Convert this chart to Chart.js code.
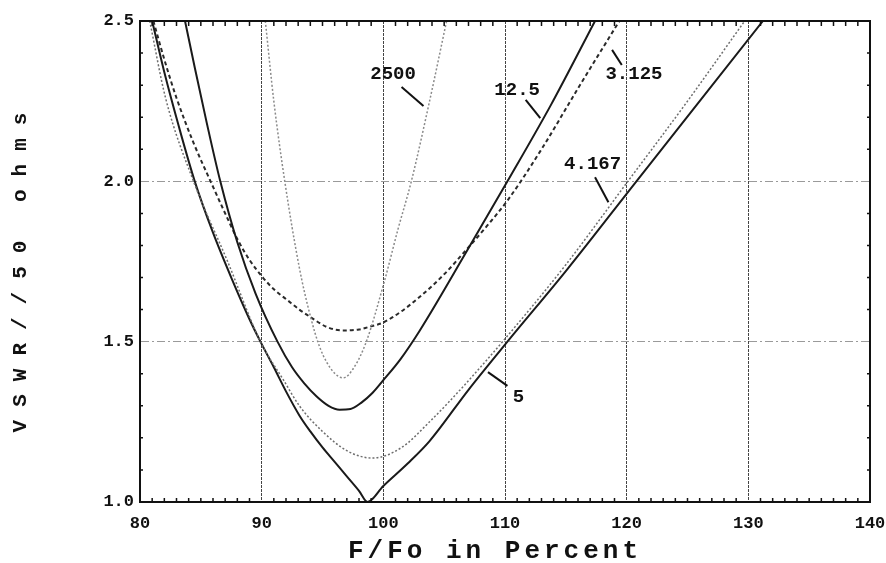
<!DOCTYPE html>
<html>
<head>
<meta charset="utf-8">
<script src="https://cdn.jsdelivr.net/npm/chart.js@4.4.1/dist/chart.umd.min.js"></script>
<style>
  body { margin: 0; background: #fff; }
</style>
</head>
<body>
<canvas id="chart" width="886" height="563"></canvas>
<script>
// F/Fo (%) and VSWR, one pair of arrays per curve
const x2500 = [90.3, 91.0, 91.9, 93.1, 94.0, 94.8, 95.8, 96.7, 97.6, 98.6, 100.1, 101.2, 102.3, 103.8, 105.2];
const y2500 = [2.5, 2.25, 2.0, 1.73, 1.58, 1.48, 1.41, 1.387, 1.42, 1.5, 1.69, 1.85, 2.0, 2.25, 2.5];

const x12_5 = [83.7, 84.5, 85.5, 86.6, 88, 89.5, 91.3, 92.5, 93.5, 94.5, 95.5, 96.4, 97.3, 98.2, 99.1, 100, 101.4, 103, 106.9, 110.2, 113.8, 117.4];
const y12_5 = [2.5, 2.355, 2.18, 2.0, 1.81, 1.65, 1.5, 1.42, 1.37, 1.33, 1.30, 1.288, 1.29, 1.31, 1.34, 1.38, 1.445, 1.535, 1.785, 2.0, 2.24, 2.5];

const x3_125 = [81.1, 82, 83, 84.4, 85.8, 87, 88, 89, 90.1, 91.1, 92.1, 93.1, 94, 95.4, 96.7, 98, 99, 100, 101.5, 103, 105, 106.9, 108.5, 110.2, 113, 116, 119.4];
const y3_125 = [2.5, 2.38, 2.26, 2.12, 2.0, 1.9, 1.82, 1.755, 1.70, 1.66, 1.63, 1.60, 1.577, 1.545, 1.535, 1.538, 1.548, 1.56, 1.595, 1.64, 1.71, 1.79, 1.86, 1.94, 2.10, 2.29, 2.5];

const x4_167 = [80.8, 82.1, 84.4, 87.2, 89.9, 91.8, 93.1, 95, 97, 99.1, 101.5, 103.8, 106.8, 109.8, 115, 120.1, 125, 129.7];
const y4_167 = [2.5, 2.26, 2.0, 1.75, 1.5, 1.38, 1.30, 1.22, 1.16, 1.137, 1.17, 1.25, 1.37, 1.5, 1.74, 2.0, 2.25, 2.5];

const x5 = [81.0, 82.0, 83.2, 84.5, 86, 87.5, 89, 89.9, 91, 92, 93.1, 94, 95, 96, 97, 98, 98.7, 100, 102, 103.8, 107, 110.2, 115, 120.8, 126, 131.2];
const y5 = [2.5, 2.34, 2.17, 2.0, 1.84, 1.70, 1.57, 1.5, 1.42, 1.345, 1.27, 1.22, 1.17, 1.125, 1.08, 1.035, 1.0, 1.05, 1.12, 1.19, 1.35, 1.5, 1.72, 2.0, 2.25, 2.5];

const xTicks = [80, 90, 100, 110, 120, 130, 140];
const yTicks = [1.0, 1.5, 2.0, 2.5];

const pts = (xs, ys) => xs.map((v, i) => ({ x: v, y: ys[i] }));

// curve labels with their leader lines, in data units
const notes = [
    { text: "2500", x: 100.8, y: 2.335, from: [101.5, 2.294], to: [103.3, 2.235] },
    { text: "12.5", x: 111.0, y: 2.285, from: [111.7, 2.254], to: [112.9, 2.197] },
    { text: "3.125", x: 120.6, y: 2.335, from: [119.6, 2.363], to: [118.8, 2.41] },
    { text: "4.167", x: 117.2, y: 2.054, from: [117.4, 2.013], to: [118.5, 1.935] },
    { text: "5", x: 111.1, y: 1.327, from: [110.2, 1.362], to: [108.6, 1.405] },
];

const monoBold = (size) => ({ family: "'Liberation Mono', 'DejaVu Sans Mono', monospace", size: size, weight: "bold" });

const decor = {
    id: "decor",
    afterDatasetsDraw(chart) {
        const { ctx, chartArea: a, scales: { x, y } } = chart;
        ctx.save();
        // curve labels
        ctx.fillStyle = "#111";
        ctx.strokeStyle = "#111";
        ctx.lineWidth = 2;
        ctx.font = "bold 19px 'Liberation Mono', monospace";
        ctx.textAlign = "center";
        ctx.textBaseline = "middle";
        notes.forEach((n) => {
            ctx.fillText(n.text, x.getPixelForValue(n.x), y.getPixelForValue(n.y));
            ctx.beginPath();
            ctx.moveTo(x.getPixelForValue(n.from[0]), y.getPixelForValue(n.from[1]));
            ctx.lineTo(x.getPixelForValue(n.to[0]), y.getPixelForValue(n.to[1]));
            ctx.stroke();
        });

        // frame
        ctx.lineWidth = 2;
        ctx.strokeRect(a.left, a.top, a.right - a.left, a.bottom - a.top);

        // minor ticks
        ctx.lineWidth = 1.5;
        ctx.beginPath();
        for (let v = 81; v < 140; v++) {
            if (v % 10 === 0) continue;
            const px = x.getPixelForValue(v);
            ctx.moveTo(px, a.bottom);
            ctx.lineTo(px, a.bottom - 4);
            ctx.moveTo(px, a.top);
            ctx.lineTo(px, a.top + 5);
        }
        for (let k = 11; k < 25; k++) {
            if (k % 5 === 0) continue;
            const py = y.getPixelForValue(k / 10);
            ctx.moveTo(a.left, py);
            ctx.lineTo(a.left + 3, py);
            ctx.moveTo(a.right, py);
            ctx.lineTo(a.right - 3, py);
        }
        ctx.stroke();

        // axis titles
        ctx.font = "bold 26px 'Liberation Mono', monospace";
        ctx.letterSpacing = "4px";
        ctx.textAlign = "center";
        ctx.fillText("F/Fo in Percent", 495, 551);
        ctx.translate(21, 273);
        ctx.rotate(-Math.PI / 2);
        ctx.font = "bold 21px 'Liberation Mono', monospace";
        ctx.letterSpacing = "13px";
        ctx.fillText("VSWR//50 ohms", 7, 0);
        ctx.restore();
    },
};

const ctx = document.getElementById("chart").getContext("2d");
const chart = new Chart(ctx, {
    type: "line",
    data: {
        datasets: [
            {
                label: "2500",
                data: pts(x2500, y2500),
                borderColor: "#8a8a8a",
                borderWidth: 1.5,
                borderDash: [2, 2],
            },
            {
                label: "12.5",
                data: pts(x12_5, y12_5),
                borderColor: "#1a1a1a",
                borderWidth: 2,
            },
            {
                label: "3.125",
                data: pts(x3_125, y3_125),
                borderColor: "#2a2a2a",
                borderWidth: 2,
                borderDash: [4, 3],
            },
            {
                label: "4.167",
                data: pts(x4_167, y4_167),
                borderColor: "#6e6e6e",
                borderWidth: 1.5,
                borderDash: [2, 2],
            },
            {
                label: "5",
                data: pts(x5, y5),
                borderColor: "#1a1a1a",
                borderWidth: 2,
            },
        ],
    },
    options: {
        responsive: false,
        animation: false,
        devicePixelRatio: 1,
        layout: { padding: { left: 0, right: 16, top: 21, bottom: 0 } },
        elements: {
            point: { radius: 0 },
            line: { cubicInterpolationMode: "monotone", fill: false },
        },
        plugins: {
            legend: { display: false },
            tooltip: { enabled: false },
        },
        scales: {
            x: {
                type: "linear",
                min: 80,
                max: 140,
                afterFit: (s) => { s.height = 61; s.paddingLeft = 0; s.paddingRight = 0; },
                afterBuildTicks: (s) => { s.ticks = xTicks.map((v) => ({ value: v })); },
                ticks: {
                    color: "#111",
                    font: monoBold(17),
                    padding: 12,
                    maxRotation: 0,
                    callback: (v) => String(v),
                },
                grid: { color: "#444", lineWidth: 1, drawTicks: false },
                border: { display: true, color: "#111", width: 2, dash: [3, 1] },
            },
            y: {
                min: 1.0,
                max: 2.5,
                afterFit: (s) => { s.width = 140; s.paddingTop = 0; s.paddingBottom = 0; },
                afterBuildTicks: (s) => { s.ticks = yTicks.map((v) => ({ value: v })); },
                ticks: {
                    color: "#111",
                    font: monoBold(17),
                    padding: 6,
                    callback: (v) => v.toFixed(1),
                },
                grid: { color: "#9a9a9a", lineWidth: 1, drawTicks: false },
                border: { display: true, color: "#111", width: 2, dash: [8, 3, 2, 3] },
            },
        },
    },
    plugins: [decor],
});
</script>
</body>
</html>
